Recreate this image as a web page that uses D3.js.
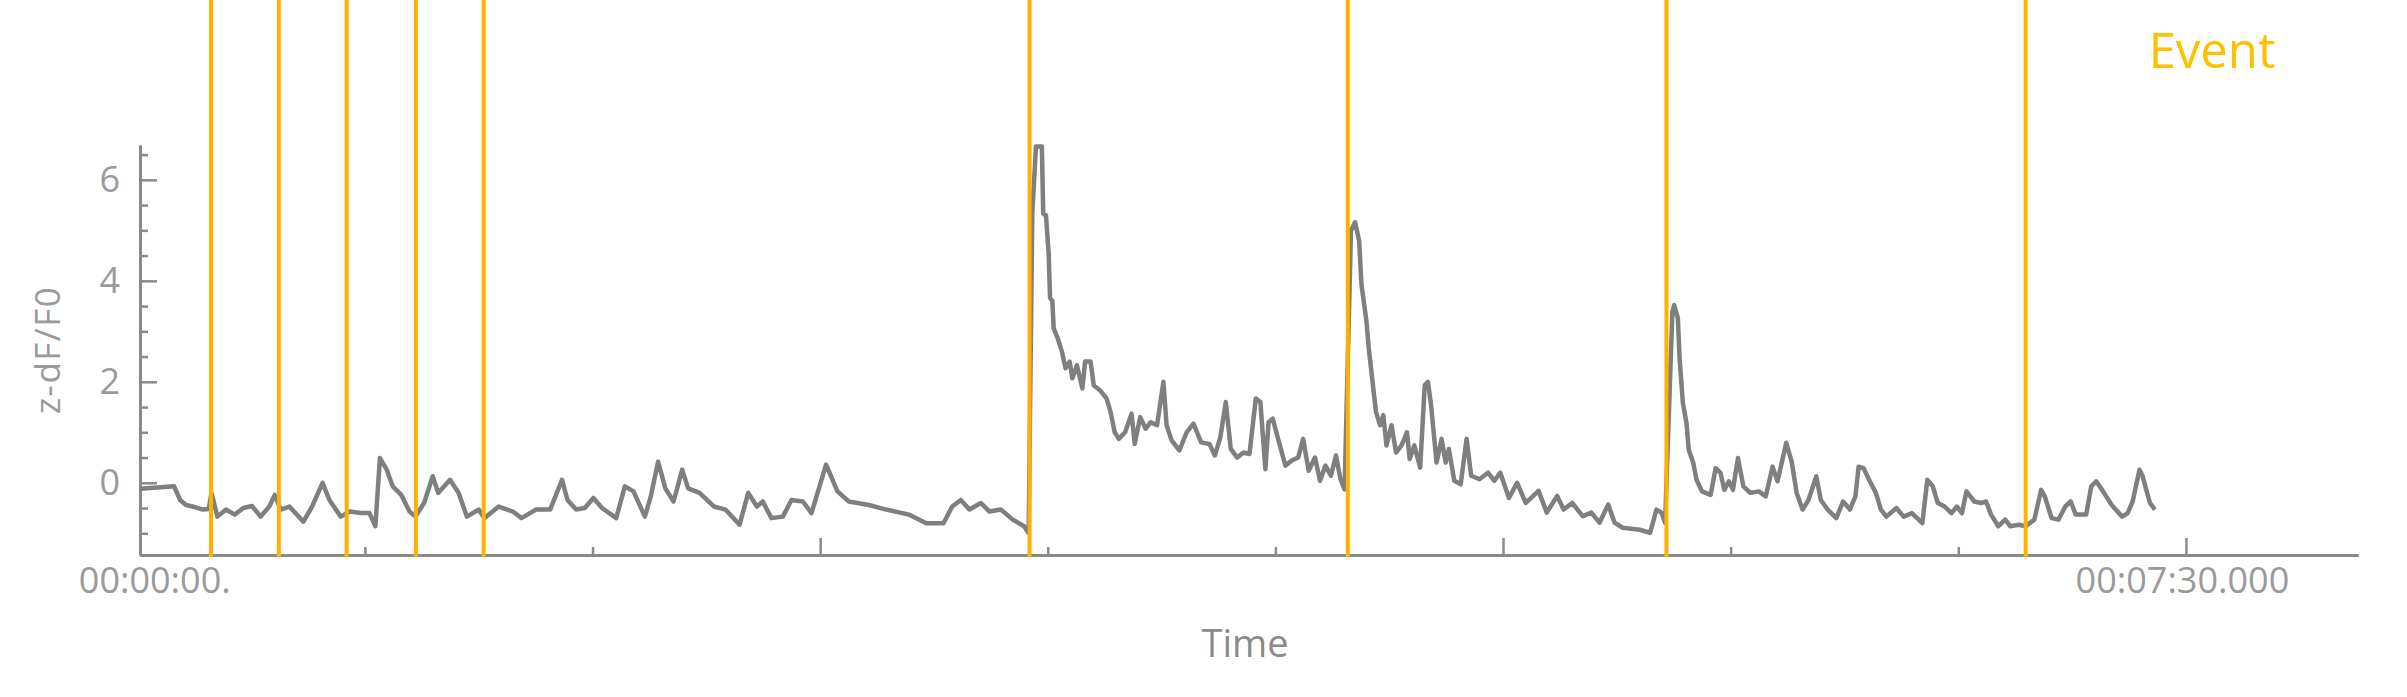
<!DOCTYPE html>
<html>
<head>
<meta charset="utf-8">
<script src="https://cdn.jsdelivr.net/npm/d3@7"></script>
<style>
  html, body { margin: 0; padding: 0; background: #ffffff; }
  svg { display: block; }
  text { font-family: "Open Sans", "Segoe UI", sans-serif; }
</style>
</head>
<body>
<svg id="chart" width="2407" height="697"></svg>
<script>
// ---- data (seconds, z-dF/F0) ----
const times = [
  0.6, 8.1, 9.4, 10.7, 12.6, 14.4, 15.7, 16.3, 17.6, 19.5, 21.4, 23.3, 25.2, 27.1, 29.0, 30.2, 31.5, 33.4, 36.5, 38.4,
  40.7, 42.2, 44.7, 46.6, 49.1, 51.0, 52.3, 53.3, 54.8, 56.1, 58.0, 59.8, 61.1, 63.0, 64.9, 66.1, 68.7, 70.6, 72.4, 75.0,
  76.2, 79.4, 82.5, 84.4, 87.6, 90.7, 93.3, 94.5, 96.4, 98.3, 100.2, 102.1, 105.2, 107.1, 109.0, 111.5, 112.8, 114.4, 116.0, 117.8,
  119.7, 121.0, 123.5, 126.7, 129.2, 132.3, 134.2, 136.1, 137.4, 139.3, 141.8, 143.7, 146.2, 148.1, 151.3, 153.8, 156.3, 160.7, 164.5, 169.5,
  173.3, 177.1, 179.0, 180.9, 182.8, 185.3, 187.2, 189.7, 192.3, 194.8, 195.8,
  196.6, 197.4, 198.7, 199.0, 199.6, 200.2, 200.5, 201.0, 201.3, 202.2, 203.1, 203.9, 204.8, 205.4, 206.4, 207.6, 208.2, 209.4, 210.1, 211.5,
  212.9, 213.8, 214.7, 215.6, 217.0, 218.4, 219.1, 220.3, 221.5, 222.6, 224.0, 225.4, 226.1, 227.2, 228.9, 230.5, 232.0, 233.7, 235.5, 236.7,
  237.9, 239.1, 240.2, 241.6, 243.0, 244.3, 245.7, 246.7, 247.8, 248.5, 249.4, 250.8, 252.2, 253.6, 255.0, 256.1, 257.3, 258.7, 259.8, 261.0,
  262.2, 263.3, 264.3, 265.2,
  266.6, 267.5, 268.4, 268.9, 270.0, 270.5, 271.5, 272.1, 273.0, 273.7, 274.4, 275.5, 276.5, 277.7, 278.9, 279.5, 280.5, 281.8, 282.8, 283.5,
  284.2, 285.4, 286.5, 287.4, 288.1, 289.3, 290.7, 292.0, 293.0, 294.8, 296.7, 298.1, 299.4, 301.3, 303.1, 305.0, 307.8, 309.6, 311.9, 313.3,
  315.2, 317.5, 319.4, 321.2, 323.1, 324.5, 326.3, 330.0, 332.3, 333.7, 334.8, 335.6,
  337.2, 337.6, 338.4, 338.8, 339.5, 340.3, 340.8, 341.8, 342.5, 343.7, 345.6, 346.7, 347.8, 348.6, 349.6, 350.5, 351.6, 352.8, 354.3, 356.2,
  357.7, 359.2, 360.3, 362.2, 363.4, 364.5, 365.8, 367.1, 368.8, 369.8, 371.3, 373.2, 374.7, 376.2, 377.4, 378.1, 379.2, 380.4, 381.9, 383.0,
  384.2, 386.4, 388.0, 389.8, 392.1, 393.2, 394.4, 395.5, 397.0, 398.5, 399.7, 400.8, 401.8, 403.5, 405.0, 406.1, 407.2, 408.8, 410.3, 411.4,
  413.3, 414.8, 416.7, 418.2, 419.0, 420.5, 422.0, 423.5, 424.7, 425.8, 428.1, 429.2, 430.3, 431.8, 433.7, 436.0, 437.2, 438.3, 439.8, 440.5,
  441.3, 442.1, 443.2
];
const values = [
  -0.12, -0.07, -0.34, -0.44, -0.48, -0.53, -0.52, -0.20, -0.67, -0.53, -0.63, -0.50, -0.46, -0.67, -0.47, -0.24, -0.53, -0.47, -0.77, -0.47,
  0.00, -0.34, -0.67, -0.57, -0.60, -0.60, -0.86, 0.49, 0.26, -0.07, -0.24, -0.57, -0.67, -0.40, 0.13, -0.20, 0.06, -0.20, -0.67, -0.53,
  -0.70, -0.47, -0.57, -0.70, -0.53, -0.53, 0.06, -0.34, -0.53, -0.50, -0.30, -0.50, -0.70, -0.07, -0.17, -0.67, -0.27, 0.42, -0.11, -0.37,
  0.26, -0.11, -0.20, -0.47, -0.53, -0.83, -0.20, -0.47, -0.37, -0.70, -0.67, -0.34, -0.37, -0.60, 0.36, -0.17, -0.37, -0.44, -0.53, -0.63,
  -0.80, -0.80, -0.47, -0.34, -0.53, -0.40, -0.57, -0.53, -0.73, -0.86, -1.00,
  5.33, 6.66, 6.66, 5.33, 5.30, 4.53, 3.66, 3.60, 3.06, 2.86, 2.60, 2.27, 2.40, 2.07, 2.33, 1.87, 2.40, 2.40, 1.93, 1.83,
  1.67, 1.40, 1.00, 0.87, 1.00, 1.37, 0.77, 1.30, 1.07, 1.20, 1.14, 2.00, 1.14, 0.84, 0.64, 1.00, 1.17, 0.80, 0.77, 0.54,
  0.90, 1.60, 0.67, 0.50, 0.60, 0.57, 1.67, 1.60, 0.27, 1.20, 1.27, 0.80, 0.34, 0.44, 0.50, 0.87, 0.24, 0.50, 0.04, 0.34,
  0.14, 0.54, 0.07, -0.13,
  4.99, 5.16, 4.79, 3.93, 3.20, 2.67, 1.87, 1.40, 1.14, 1.34, 0.74, 1.14, 0.60, 0.74, 1.00, 0.47, 0.74, 0.30, 1.93, 2.00,
  1.53, 0.40, 0.87, 0.40, 0.67, 0.04, -0.03, 0.87, 0.14, 0.07, 0.20, 0.04, 0.20, -0.30, 0.00, -0.40, -0.16, -0.59, -0.26, -0.53,
  -0.40, -0.66, -0.59, -0.79, -0.43, -0.79, -0.89, -0.93, -0.99, -0.53, -0.59, -0.79,
  3.39, 3.52, 3.26, 2.44, 1.58, 1.18, 0.65, 0.39, 0.06, -0.17, -0.24, 0.29, 0.19, -0.14, 0.03, -0.14, 0.49, -0.07, -0.20, -0.17,
  -0.27, 0.32, 0.03, 0.79, 0.42, -0.20, -0.53, -0.34, 0.13, -0.34, -0.53, -0.70, -0.37, -0.53, -0.27, 0.32, 0.29, 0.06, -0.20, -0.53,
  -0.67, -0.50, -0.67, -0.60, -0.80, 0.06, -0.07, -0.40, -0.47, -0.60, -0.47, -0.60, -0.17, -0.37, -0.40, -0.37, -0.63, -0.86, -0.73, -0.86,
  -0.83, -0.86, -0.73, -0.14, -0.27, -0.70, -0.73, -0.47, -0.37, -0.63, -0.63, -0.07, 0.03, -0.17, -0.44, -0.67, -0.60, -0.37, 0.26, 0.13,
  -0.14, -0.40, -0.53
];
const eventTimes = [16.2, 31.1, 46.0, 61.2, 76.1, 196.0, 265.9, 335.9, 414.8];
const yMajorTicks = [0, 2, 4, 6];
const yMinorTicks = [-1, -0.5, 0.5, 1, 1.5, 2.5, 3, 3.5, 4.5, 5, 5.5, 6.5];
const xMajorTicks = [150, 300, 450];
const xMinorTicks = [50, 100, 200, 250, 350, 400];
const xLabelTicks = [0, 450];
const xTickLabels = ["00:00:00.", "00:07:30.000"];
const xDomain = [0.6, 487.8];
const yDomain = [-1.43, 6.69];
const yTitle = "z-dF/F0";
const xTitle = "Time";
const legendLabel = "Event";

// ---- layout ----
(function () {
  const svg = d3.select("#chart");
  const mLeft = 140, mRight = 2358, mTop = 145, mBottom = 555;
  const axisColor = "#8a8a8a";
  const labelColor = "#9a9a9a";

  const x = d3.scaleLinear().domain(xDomain).range([mLeft, mRight]);
  const y = d3.scaleLinear().domain(yDomain).range([mBottom, mTop]);

  function styleAxis(g) {
    g.selectAll("path.domain").attr("stroke", axisColor).attr("stroke-width", 3);
    g.selectAll(".tick line").attr("stroke", axisColor).attr("stroke-width", 2.5);
    g.selectAll(".tick text").attr("fill", labelColor)
      .style("font-family", "'Open Sans', sans-serif").style("font-size", "36px");
  }

  svg.append("g").attr("transform", `translate(${mLeft},0)`)
    .call(d3.axisLeft(y).tickValues(yMinorTicks).tickSize(-8).tickSizeOuter(0).tickFormat(""))
    .call(styleAxis);
  svg.append("g").attr("transform", `translate(${mLeft},0)`)
    .call(d3.axisLeft(y).tickValues(yMajorTicks).tickSize(-17).tickSizeOuter(0).tickPadding(20).tickFormat(d3.format("d")))
    .call(styleAxis);

  svg.append("g").attr("transform", `translate(0,${mBottom})`)
    .call(d3.axisBottom(x).tickValues(xMinorTicks).tickSize(-8).tickSizeOuter(0).tickFormat(""))
    .call(styleAxis);
  svg.append("g").attr("transform", `translate(0,${mBottom})`)
    .call(d3.axisBottom(x).tickValues(xMajorTicks).tickSize(-17).tickSizeOuter(0).tickFormat(""))
    .call(styleAxis);
  const xl = svg.append("g").attr("transform", `translate(0,${mBottom})`)
    .call(d3.axisBottom(x).tickValues(xLabelTicks).tickSize(0).tickSizeOuter(0).tickPadding(12)
      .tickFormat((d, i) => xTickLabels[i]))
    .call(styleAxis);
  xl.select("path.domain").remove();
  xl.selectAll(".tick text").attr("dx", (d, i) => i === 0 ? 17 : -4);

  const data = times.map((t, i) => ({ t, v: values[i] }));
  svg.append("path")
    .datum(data)
    .attr("fill", "none")
    .attr("stroke", "#7f7f7f")
    .attr("stroke-width", 4.5)
    .attr("stroke-linejoin", "round")
    .attr("d", d3.line().x(d => x(d.t)).y(d => y(d.v)));

  svg.append("g").selectAll("line")
    .data(eventTimes)
    .join("line")
    .attr("x1", d => x(d)).attr("x2", d => x(d))
    .attr("y1", 0).attr("y2", mBottom + 2)
    .attr("stroke", "#FFB000")
    .attr("stroke-width", 4);

  svg.append("text")
    .attr("transform", `translate(60,350) rotate(-90)`)
    .attr("text-anchor", "middle")
    .attr("fill", labelColor)
    .style("font-size", "35px")
    .style("letter-spacing", "1.5px")
    .text(yTitle);

  svg.append("text")
    .attr("x", 1245).attr("y", 657)
    .attr("text-anchor", "middle")
    .attr("fill", "#8a8a8a")
    .style("font-size", "38px")
    .text(xTitle);

  svg.append("text")
    .attr("x", 2212).attr("y", 68)
    .attr("text-anchor", "middle")
    .attr("fill", "#FFC000")
    .style("font-size", "49px")
    .text(legendLabel);
})();
</script>
</body>
</html>
